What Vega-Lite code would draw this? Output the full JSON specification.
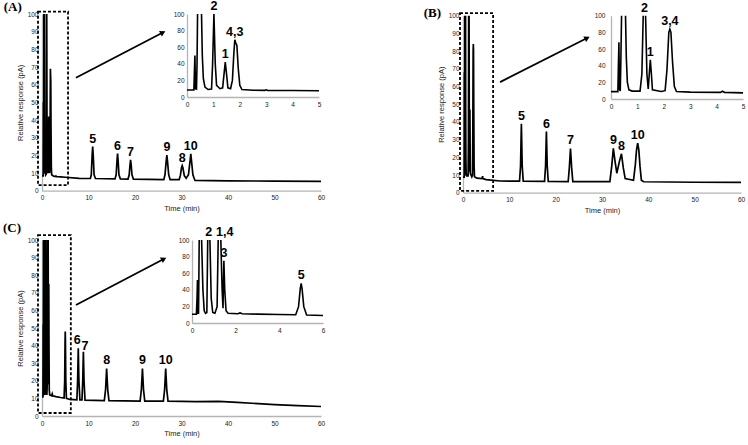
{
  "$schema": "https://vega.github.io/schema/vega-lite/v6.json",
  "width": 748,
  "height": 445,
  "autosize": "none",
  "padding": 0,
  "background": "white",
  "config": {
    "view": {"stroke": null},
    "axis": {
      "grid": false,
      "ticks": false,
      "domainColor": "#b4b4b4",
      "domainWidth": 1.3,
      "labelFont": "Liberation Sans",
      "labelFontSize": 6.5,
      "labelColor": "#222",
      "labelPadding": 4,
      "labelFlush": false,
      "labelOverlap": false,
      "titleFont": "Liberation Sans",
      "titleFontSize": 7.5,
      "titleFontWeight": "normal",
      "titleColor": "#222"
    },
    "text": {"font": "Liberation Sans"}
  },
  "datasets": {
    "traceA": [
      {"t": 0, "v": 8.4}, {"t": 0.26, "v": 8.4}, {"t": 0.28, "v": 30}, {"t": 0.3, "v": 50}, {"t": 0.32, "v": 10},
      {"t": 0.36, "v": 9.5}, {"t": 0.38, "v": 40}, {"t": 0.4, "v": 100}, {"t": 0.47, "v": null}, {"t": 0.55, "v": 100},
      {"t": 0.58, "v": 50}, {"t": 0.62, "v": 22}, {"t": 0.68, "v": 12}, {"t": 0.8, "v": 9}, {"t": 0.93, "v": 9.5},
      {"t": 0.97, "v": 40}, {"t": 1.02, "v": 100}, {"t": 1.07, "v": 40}, {"t": 1.12, "v": 14}, {"t": 1.25, "v": 10},
      {"t": 1.35, "v": 11}, {"t": 1.41, "v": 30}, {"t": 1.45, "v": 42}, {"t": 1.49, "v": 30}, {"t": 1.55, "v": 11},
      {"t": 1.65, "v": 10}, {"t": 1.72, "v": 20}, {"t": 1.77, "v": 50}, {"t": 1.81, "v": 69}, {"t": 1.85, "v": 65},
      {"t": 1.89, "v": 62}, {"t": 1.94, "v": 35}, {"t": 2.0, "v": 14}, {"t": 2.08, "v": 9}, {"t": 2.5, "v": 8.2},
      {"t": 2.95, "v": 8}, {"t": 3.0, "v": 8.6}, {"t": 3.05, "v": 8}, {"t": 4.0, "v": 7.8}, {"t": 5.0, "v": 7.6},
      {"t": 8.0, "v": 7.0}, {"t": 10.4, "v": 6.9}, {"t": 10.6, "v": 9}, {"t": 10.78, "v": 20}, {"t": 10.9, "v": 25},
      {"t": 11.02, "v": 20}, {"t": 11.2, "v": 9}, {"t": 11.5, "v": 6.9}, {"t": 15.7, "v": 6.7}, {"t": 15.95, "v": 9},
      {"t": 16.13, "v": 17}, {"t": 16.25, "v": 21}, {"t": 16.37, "v": 17}, {"t": 16.55, "v": 9}, {"t": 16.85, "v": 6.7},
      {"t": 18.5, "v": 6.6}, {"t": 18.75, "v": 9}, {"t": 18.92, "v": 14.5}, {"t": 19.05, "v": 17.5}, {"t": 19.18, "v": 14.5},
      {"t": 19.35, "v": 9}, {"t": 19.65, "v": 6.6}, {"t": 26.2, "v": 6.3}, {"t": 26.45, "v": 9}, {"t": 26.72, "v": 17},
      {"t": 26.85, "v": 20.2}, {"t": 26.98, "v": 17}, {"t": 27.25, "v": 9}, {"t": 27.55, "v": 6.3}, {"t": 29.5, "v": 6.3},
      {"t": 29.75, "v": 8.5}, {"t": 30.0, "v": 13}, {"t": 30.15, "v": 14.2}, {"t": 30.3, "v": 13}, {"t": 30.6, "v": 8.5},
      {"t": 31.0, "v": 7.0}, {"t": 31.5, "v": 9}, {"t": 31.87, "v": 17.5}, {"t": 32.0, "v": 20.8}, {"t": 32.13, "v": 17.5},
      {"t": 32.45, "v": 9}, {"t": 32.9, "v": 5.8}, {"t": 40, "v": 5.6}, {"t": 50, "v": 5.4}, {"t": 60, "v": 5.3}
    ],
    "traceB": [
      {"t": 0, "v": 8.8}, {"t": 0.26, "v": 8.8}, {"t": 0.28, "v": 40}, {"t": 0.3, "v": 68}, {"t": 0.32, "v": 12},
      {"t": 0.35, "v": 9.5}, {"t": 0.37, "v": 40}, {"t": 0.4, "v": 100}, {"t": 0.47, "v": null}, {"t": 0.55, "v": 100},
      {"t": 0.58, "v": 50}, {"t": 0.62, "v": 20}, {"t": 0.68, "v": 11}, {"t": 0.8, "v": 9.5}, {"t": 1.1, "v": 9.5},
      {"t": 1.17, "v": 30}, {"t": 1.22, "v": 100}, {"t": 1.265, "v": null}, {"t": 1.31, "v": 100}, {"t": 1.36, "v": 30},
      {"t": 1.41, "v": 12}, {"t": 1.45, "v": 30}, {"t": 1.49, "v": 47}, {"t": 1.53, "v": 30}, {"t": 1.57, "v": 11},
      {"t": 1.9, "v": 9}, {"t": 2.05, "v": 10}, {"t": 2.12, "v": 35}, {"t": 2.19, "v": 80}, {"t": 2.23, "v": 84},
      {"t": 2.27, "v": 80}, {"t": 2.33, "v": 45}, {"t": 2.4, "v": 15}, {"t": 2.48, "v": 9}, {"t": 3.0, "v": 8.2},
      {"t": 4.15, "v": 8}, {"t": 4.22, "v": 9.3}, {"t": 4.3, "v": 8}, {"t": 5.0, "v": 7.4}, {"t": 8.0, "v": 6.6},
      {"t": 12.2, "v": 6.5}, {"t": 12.42, "v": 15}, {"t": 12.6, "v": 39}, {"t": 12.78, "v": 15}, {"t": 13.0, "v": 6.5},
      {"t": 17.6, "v": 6.4}, {"t": 17.82, "v": 15}, {"t": 18.0, "v": 34.5}, {"t": 18.18, "v": 15}, {"t": 18.4, "v": 6.4},
      {"t": 22.7, "v": 6.3}, {"t": 22.95, "v": 14}, {"t": 23.2, "v": 25}, {"t": 23.45, "v": 14}, {"t": 23.7, "v": 6.3},
      {"t": 31.7, "v": 6.3}, {"t": 32.1, "v": 15}, {"t": 32.45, "v": 25}, {"t": 32.8, "v": 18}, {"t": 33.2, "v": 11},
      {"t": 33.7, "v": 17}, {"t": 34.2, "v": 22}, {"t": 34.6, "v": 14}, {"t": 35.0, "v": 8}, {"t": 36.8, "v": 7},
      {"t": 37.2, "v": 16}, {"t": 37.45, "v": 24}, {"t": 37.7, "v": 28}, {"t": 37.95, "v": 24}, {"t": 38.2, "v": 15},
      {"t": 38.5, "v": 7}, {"t": 39.0, "v": 6.2}, {"t": 50, "v": 5.9}, {"t": 60, "v": 5.8}
    ],
    "traceC": [
      {"t": 0, "v": 10.8}, {"t": 0.2, "v": 10.8}, {"t": 0.23, "v": 30}, {"t": 0.25, "v": 52}, {"t": 0.27, "v": 12},
      {"t": 0.3, "v": 12}, {"t": 0.33, "v": 100}, {"t": 0.38, "v": null}, {"t": 0.44, "v": 100}, {"t": 0.5, "v": 40},
      {"t": 0.56, "v": 15}, {"t": 0.62, "v": 12}, {"t": 0.68, "v": 13}, {"t": 0.72, "v": 100}, {"t": 0.77, "v": null},
      {"t": 0.82, "v": 100}, {"t": 0.88, "v": 30}, {"t": 0.95, "v": 13}, {"t": 1.05, "v": 12}, {"t": 1.15, "v": 20},
      {"t": 1.2, "v": 100}, {"t": 1.26, "v": null}, {"t": 1.32, "v": 100}, {"t": 1.38, "v": 40}, {"t": 1.42, "v": 18},
      {"t": 1.46, "v": 75}, {"t": 1.5, "v": 40}, {"t": 1.56, "v": 15}, {"t": 1.65, "v": 12}, {"t": 2.1, "v": 11.5},
      {"t": 2.2, "v": 12.5}, {"t": 2.3, "v": 11.5}, {"t": 3.0, "v": 11}, {"t": 4.0, "v": 10.5}, {"t": 4.75, "v": 10.2},
      {"t": 4.88, "v": 20}, {"t": 4.96, "v": 42}, {"t": 5.0, "v": 48}, {"t": 5.04, "v": 42}, {"t": 5.12, "v": 20},
      {"t": 5.25, "v": 10}, {"t": 6.0, "v": 9.4}, {"t": 7.5, "v": 9.2}, {"t": 7.66, "v": 20}, {"t": 7.8, "v": 38.5},
      {"t": 7.94, "v": 20}, {"t": 8.15, "v": 9.2}, {"t": 8.6, "v": 9.2}, {"t": 8.76, "v": 20}, {"t": 8.9, "v": 36.5},
      {"t": 9.04, "v": 20}, {"t": 9.25, "v": 9}, {"t": 13.4, "v": 8.7}, {"t": 13.67, "v": 15}, {"t": 13.9, "v": 27},
      {"t": 14.13, "v": 15}, {"t": 14.4, "v": 8.7}, {"t": 21.1, "v": 8.5}, {"t": 21.37, "v": 15}, {"t": 21.6, "v": 27},
      {"t": 21.83, "v": 15}, {"t": 22.1, "v": 8.5}, {"t": 26.1, "v": 8.4}, {"t": 26.37, "v": 15}, {"t": 26.6, "v": 27},
      {"t": 26.83, "v": 15}, {"t": 27.1, "v": 8.4}, {"t": 33, "v": 8.2}, {"t": 38, "v": 8.3}, {"t": 42, "v": 7.7},
      {"t": 50, "v": 6.5}, {"t": 55, "v": 5.9}, {"t": 60, "v": 5.4}
    ]
  },
  "layer": [
    {
      "encoding": {
        "x": {"field": "t", "type": "quantitative", "scale": {"domain": [0, 60], "range": [42, 321]},
              "axis": {"orient": "bottom", "offset": -254.3, "values": [0, 10, 20, 30, 40, 50, 60], "title": "Time (min)", "titlePadding": 3}},
        "y": {"field": "v", "type": "quantitative", "scale": {"domain": [0, 100], "range": [190.7, 14]},
              "axis": {"orient": "left", "offset": -42, "values": [0, 10, 20, 30, 40, 50, 60, 70, 80, 90, 100], "title": "Relative response (pA)", "titlePadding": 3}}
      },
      "layer": [
        {"data": {"name": "traceA"}, "mark": {"type": "line", "color": "black", "strokeWidth": 1.7, "invalid": "break-paths-show-domains"}},
        {"data": {"values": [{"t": -0.86, "v": 101.4, "t2": 5.6, "v2": 3.2}]},
         "mark": {"type": "rect", "fill": "transparent", "stroke": "black", "strokeWidth": 1.8, "strokeDash": [3, 2]},
         "encoding": {"x2": {"field": "t2"}, "y2": {"field": "v2"}}},
        {"data": {"values": [{"t": 26.0, "v": 89.5, "t2": 7.3, "v2": 63.9}]},
         "mark": {"type": "rule", "color": "black", "strokeWidth": 1.8},
         "encoding": {"x2": {"field": "t2"}, "y2": {"field": "v2"}}},
        {"data": {"values": [{"t": 26.0, "v": 89.5}]},
         "mark": {"type": "point", "shape": "triangle-right", "filled": true, "color": "black", "opacity": 1, "size": 40, "angle": 333}},
        {"data": {"values": [
          {"t": 10.9, "v": 25, "label": "5"}, {"t": 16.25, "v": 21, "label": "6"}, {"t": 19.05, "v": 17.5, "label": "7"},
          {"t": 26.85, "v": 20.2, "label": "9"}, {"t": 30.15, "v": 14.2, "label": "8"}, {"t": 32.0, "v": 20.8, "label": "10"}]},
         "mark": {"type": "text", "fontSize": 12.5, "fontWeight": "bold", "baseline": "bottom", "dy": -1},
         "encoding": {"text": {"field": "label", "type": "nominal"}}},
        {"data": {"values": [{"t": -6.3, "v": 104, "label": "(A)"}]},
         "mark": {"type": "text", "font": "Liberation Serif", "fontSize": 13, "fontWeight": "bold", "baseline": "middle"},
         "encoding": {"text": {"field": "label", "type": "nominal"}}}
      ]
    },
    {
      "encoding": {
        "x": {"field": "t", "type": "quantitative", "scale": {"domain": [0, 5], "range": [187, 319]},
              "axis": {"orient": "bottom", "offset": -348, "values": [0, 1, 2, 3, 4, 5], "title": null}},
        "y": {"field": "v", "type": "quantitative", "scale": {"domain": [0, 100], "range": [97, 14]},
              "axis": {"orient": "left", "offset": -187, "values": [0, 20, 40, 60, 80, 100], "title": null, "labelPadding": 3}}
      },
      "layer": [
        {"data": {"name": "traceA"}, "transform": [{"filter": "datum.t <= 5"}],
         "mark": {"type": "line", "color": "black", "strokeWidth": 1.6, "invalid": "break-paths-show-domains"}},
        {"data": {"values": [
          {"t": 1.02, "v": 100, "label": "2"}, {"t": 1.45, "v": 42, "label": "1"}, {"t": 1.81, "v": 69, "label": "4,3"}]},
         "mark": {"type": "text", "fontSize": 12.5, "fontWeight": "bold", "baseline": "bottom", "dy": -1},
         "encoding": {"text": {"field": "label", "type": "nominal"}}}
      ]
    },
    {
      "encoding": {
        "x": {"field": "t", "type": "quantitative", "scale": {"domain": [0, 60], "range": [463, 741]},
              "axis": {"orient": "bottom", "offset": -252.3, "values": [0, 10, 20, 30, 40, 50, 60], "title": "Time (min)", "titlePadding": 3}},
        "y": {"field": "v", "type": "quantitative", "scale": {"domain": [0, 100], "range": [192.7, 15.7]},
              "axis": {"orient": "left", "offset": -463, "values": [0, 10, 20, 30, 40, 50, 60, 70, 80, 90, 100], "title": "Relative response (pA)", "titlePadding": 3}}
      },
      "layer": [
        {"data": {"name": "traceB"}, "mark": {"type": "line", "color": "black", "strokeWidth": 1.7, "invalid": "break-paths-show-domains"}},
        {"data": {"values": [{"t": -0.65, "v": 101.5, "t2": 6.5, "v2": 1.0}]},
         "mark": {"type": "rect", "fill": "transparent", "stroke": "black", "strokeWidth": 1.8, "strokeDash": [3, 2]},
         "encoding": {"x2": {"field": "t2"}, "y2": {"field": "v2"}}},
        {"data": {"values": [{"t": 26.8, "v": 87.4, "t2": 8.0, "v2": 62.5}]},
         "mark": {"type": "rule", "color": "black", "strokeWidth": 1.8},
         "encoding": {"x2": {"field": "t2"}, "y2": {"field": "v2"}}},
        {"data": {"values": [{"t": 26.8, "v": 87.4}]},
         "mark": {"type": "point", "shape": "triangle-right", "filled": true, "color": "black", "opacity": 1, "size": 40, "angle": 333}},
        {"data": {"values": [
          {"t": 12.6, "v": 39, "label": "5"}, {"t": 18.0, "v": 34.5, "label": "6"}, {"t": 23.2, "v": 25, "label": "7"},
          {"t": 32.45, "v": 25, "label": "9"}, {"t": 34.2, "v": 22, "label": "8"}, {"t": 37.7, "v": 28, "label": "10"}]},
         "mark": {"type": "text", "fontSize": 12.5, "fontWeight": "bold", "baseline": "bottom", "dy": -1},
         "encoding": {"text": {"field": "label", "type": "nominal"}}},
        {"data": {"values": [{"t": -6.6, "v": 101.5, "label": "(B)"}]},
         "mark": {"type": "text", "font": "Liberation Serif", "fontSize": 13, "fontWeight": "bold", "baseline": "middle"},
         "encoding": {"text": {"field": "label", "type": "nominal"}}}
      ]
    },
    {
      "encoding": {
        "x": {"field": "t", "type": "quantitative", "scale": {"domain": [0, 5], "range": [611, 743]},
              "axis": {"orient": "bottom", "offset": -346, "values": [0, 1, 2, 3, 4, 5], "title": null}},
        "y": {"field": "v", "type": "quantitative", "scale": {"domain": [0, 100], "range": [99, 15.7]},
              "axis": {"orient": "left", "offset": -611, "values": [0, 20, 40, 60, 80, 100], "title": null, "labelPadding": 6}}
      },
      "layer": [
        {"data": {"name": "traceB"}, "transform": [{"filter": "datum.t <= 5"}],
         "mark": {"type": "line", "color": "black", "strokeWidth": 1.6, "invalid": "break-paths-show-domains"}},
        {"data": {"values": [
          {"t": 1.265, "v": 100, "label": "2"}, {"t": 1.49, "v": 47, "label": "1"}, {"t": 2.23, "v": 84, "label": "3,4"}]},
         "mark": {"type": "text", "fontSize": 12.5, "fontWeight": "bold", "baseline": "bottom", "dy": -1},
         "encoding": {"text": {"field": "label", "type": "nominal"}}}
      ]
    },
    {
      "encoding": {
        "x": {"field": "t", "type": "quantitative", "scale": {"domain": [0, 60], "range": [42, 321]},
              "axis": {"orient": "bottom", "offset": -29, "values": [0, 10, 20, 30, 40, 50, 60], "title": "Time (min)", "titlePadding": 3}},
        "y": {"field": "v", "type": "quantitative", "scale": {"domain": [0, 100], "range": [416, 240]},
              "axis": {"orient": "left", "offset": -42, "values": [0, 10, 20, 30, 40, 50, 60, 70, 80, 90, 100], "title": "Relative response (pA)", "titlePadding": 3}}
      },
      "layer": [
        {"data": {"name": "traceC"}, "mark": {"type": "line", "color": "black", "strokeWidth": 1.7, "invalid": "break-paths-show-domains"}},
        {"data": {"values": [{"t": -0.86, "v": 102.8, "t2": 6.2, "v2": 1.7}]},
         "mark": {"type": "rect", "fill": "transparent", "stroke": "black", "strokeWidth": 1.8, "strokeDash": [3, 2]},
         "encoding": {"x2": {"field": "t2"}, "y2": {"field": "v2"}}},
        {"data": {"values": [{"t": 26.2, "v": 89.2, "t2": 7.3, "v2": 63.1}]},
         "mark": {"type": "rule", "color": "black", "strokeWidth": 1.8},
         "encoding": {"x2": {"field": "t2"}, "y2": {"field": "v2"}}},
        {"data": {"values": [{"t": 26.2, "v": 89.2}]},
         "mark": {"type": "point", "shape": "triangle-right", "filled": true, "color": "black", "opacity": 1, "size": 40, "angle": 332}},
        {"data": {"values": [{"t": 7.8, "v": 38.5, "label": "6"}]},
         "mark": {"type": "text", "fontSize": 12.5, "fontWeight": "bold", "baseline": "bottom", "align": "right", "dx": 2.5, "dy": -1},
         "encoding": {"text": {"field": "label", "type": "nominal"}}},
        {"data": {"values": [{"t": 8.9, "v": 36.5, "label": "7"}]},
         "mark": {"type": "text", "fontSize": 12.5, "fontWeight": "bold", "baseline": "bottom", "align": "left", "dx": -2, "dy": 1},
         "encoding": {"text": {"field": "label", "type": "nominal"}}},
        {"data": {"values": [
          {"t": 13.9, "v": 27, "label": "8"}, {"t": 21.6, "v": 27, "label": "9"}, {"t": 26.6, "v": 27, "label": "10"}]},
         "mark": {"type": "text", "fontSize": 12.5, "fontWeight": "bold", "baseline": "bottom", "dy": -1},
         "encoding": {"text": {"field": "label", "type": "nominal"}}},
        {"data": {"values": [{"t": -6.45, "v": 107, "label": "(C)"}]},
         "mark": {"type": "text", "font": "Liberation Serif", "fontSize": 13, "fontWeight": "bold", "baseline": "middle"},
         "encoding": {"text": {"field": "label", "type": "nominal"}}}
      ]
    },
    {
      "encoding": {
        "x": {"field": "t", "type": "quantitative", "scale": {"domain": [0, 6], "range": [192, 323]},
              "axis": {"orient": "bottom", "offset": -122, "values": [0, 2, 4, 6], "title": null}},
        "y": {"field": "v", "type": "quantitative", "scale": {"domain": [0, 100], "range": [323.3, 240]},
              "axis": {"orient": "left", "offset": -192, "values": [0, 20, 40, 60, 80, 100], "title": null, "labelPadding": 3}}
      },
      "layer": [
        {"data": {"name": "traceC"}, "transform": [{"filter": "datum.t <= 6"}],
         "mark": {"type": "line", "color": "black", "strokeWidth": 1.6, "invalid": "break-paths-show-domains"}},
        {"data": {"values": [
          {"t": 0.77, "v": 100, "label": "2"}, {"t": 1.46, "v": 75, "label": "3"}, {"t": 5.0, "v": 48, "label": "5"}]},
         "mark": {"type": "text", "fontSize": 12.5, "fontWeight": "bold", "baseline": "bottom", "dy": -1},
         "encoding": {"text": {"field": "label", "type": "nominal"}}},
        {"data": {"values": [{"t": 1.26, "v": 100, "label": "1,4"}]},
         "mark": {"type": "text", "fontSize": 12.5, "fontWeight": "bold", "baseline": "bottom", "align": "left", "dx": -3.5, "dy": -1},
         "encoding": {"text": {"field": "label", "type": "nominal"}}}
      ]
    }
  ],
  "resolve": {
    "scale": {"x": "independent", "y": "independent"},
    "axis": {"x": "independent", "y": "independent"}
  }
}
